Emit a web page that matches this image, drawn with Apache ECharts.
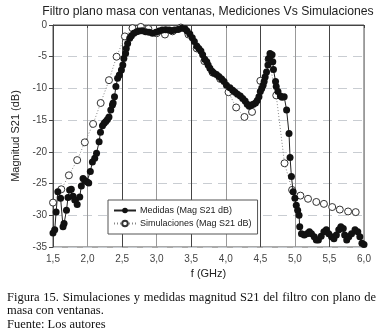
<!DOCTYPE html>
<html>
<head>
<meta charset="utf-8">
<script src="https://cdn.jsdelivr.net/npm/echarts@6/dist/echarts.min.js"></script>
<style>
  html, body { margin: 0; padding: 0; background: #fff; }
  #wrap { position: relative; width: 383px; height: 336px; }
  #chart { position: absolute; left: 0; top: 0; width: 383px; height: 336px; }
  .caption {
    position: absolute; left: 7px; width: 369px;
    font-family: "Liberation Serif", "DejaVu Serif", serif;
    font-size: 12.5px; line-height: 13.3px; color: #111;
    text-align: justify; margin: 0;
  }
</style>
</head>
<body>
<div id="wrap">
  <div id="chart"></div>
  <p class="caption" style="top:291px">Figura 15. Simulaciones y medidas magnitud S21 del filtro con plano de masa con ventanas.</p>
  <p class="caption" style="top:317.6px">Fuente: Los autores</p>
</div>
<script>
// Medidas (Mag S21 dB)
const freqMedidas = [
  1.50, 1.525, 1.545, 1.57, 1.61, 1.645, 1.66, 1.695, 1.717, 1.74, 1.765, 1.79, 1.815, 1.85,
  1.887, 1.91, 1.935, 1.96, 1.99, 2.017, 2.04, 2.07, 2.104, 2.13, 2.167, 2.187, 2.216, 2.24,
  2.264, 2.288, 2.31, 2.336, 2.36, 2.37, 2.39, 2.41, 2.435, 2.46, 2.49, 2.51, 2.525, 2.55,
  2.56, 2.58, 2.61, 2.635, 2.67, 2.71, 2.745, 2.79, 2.84, 2.89, 2.94, 2.99, 3.035, 3.08,
  3.13, 3.18, 3.215, 3.26, 3.31, 3.36, 3.41, 3.44, 3.48, 3.515, 3.545, 3.58, 3.61, 3.64,
  3.665, 3.695, 3.725, 3.745, 3.77, 3.80, 3.83, 3.865, 3.90, 3.94, 3.975, 4.01, 4.06, 4.10,
  4.135, 4.17, 4.21, 4.245, 4.28, 4.31, 4.34, 4.37, 4.40, 4.43, 4.455, 4.48, 4.50, 4.52,
  4.54, 4.555, 4.57, 4.59, 4.61, 4.62, 4.64, 4.67, 4.68, 4.69, 4.72, 4.73, 4.755, 4.79,
  4.815, 4.845, 4.88, 4.915, 4.93, 4.95, 4.975, 5.00, 5.02, 5.04, 5.06, 5.07, 5.095, 5.135,
  5.175, 5.21, 5.24, 5.28, 5.31, 5.34, 5.38, 5.42, 5.455, 5.49, 5.53, 5.565, 5.60, 5.635,
  5.665, 5.70, 5.72, 5.75, 5.78, 5.82, 5.87, 5.91, 5.94, 5.97, 6.00
];
const magMedidas = [
  -32.8, -32.3, -29.5, -26.3, -27.3, -31.8, -31.3, -29.2, -27.2, -26.0, -25.9, -27.0, -27.6, -28.3,
  -27.1, -25.4, -24.2, -24.5, -24.7, -24.9, -23.1, -21.6, -21.0, -20.2, -18.4, -16.9, -15.9, -15.5,
  -15.2, -14.9, -14.5, -13.4, -12.6, -12.3, -11.3, -9.7, -8.4, -7.9, -7.1, -6.3, -5.3, -4.5,
  -3.7, -2.9, -2.1, -1.7, -1.3, -1.05, -0.95, -0.9, -1.05, -1.15, -1.3, -1.15, -0.95, -0.8,
  -0.75, -0.8, -0.9, -0.8, -0.7, -0.5, -0.6, -0.95, -1.4, -2.0, -2.6, -3.3, -3.7, -4.1,
  -4.7, -5.4, -5.8, -6.3, -6.8, -7.3, -7.6, -7.8, -8.1, -8.5, -8.9, -9.5, -9.9, -10.3,
  -10.6, -10.9, -11.2, -11.6, -12.0, -12.5, -12.8, -12.6, -12.5, -12.3, -11.9, -11.3, -10.5, -10.0,
  -9.5, -8.9, -8.2, -7.4, -6.3, -5.3, -4.5, -4.7, -5.8, -7.0, -8.9, -9.7, -10.5, -11.2,
  -11.4, -11.3, -13.4, -17.1, -20.9, -23.9, -26.3, -27.3, -28.4, -29.2, -30.0, -31.8, -32.9, -33.1,
  -32.9, -32.6, -32.9, -33.4, -33.9, -33.9, -33.3, -32.6, -32.3, -32.9, -33.4, -33.7, -33.1, -32.3,
  -31.8, -32.1, -33.1, -33.9, -33.4, -32.9, -32.3, -32.6, -33.4, -34.4, -34.6
];

// Simulaciones (Mag S21 dB)
const freqSim = [
  1.50, 1.62, 1.73, 1.85, 1.96, 2.08, 2.19, 2.31, 2.42, 2.54, 2.65, 2.77, 2.88, 3.00,
  3.12, 3.23, 3.35, 3.46, 3.58, 3.69, 3.81, 3.92, 4.04, 4.15, 4.27, 4.38, 4.50, 4.62,
  4.73, 4.85, 4.96, 5.08, 5.19, 5.31, 5.42, 5.54, 5.65, 5.77, 5.88
];
const magSim = [
  -28.0, -25.9, -23.7, -21.3, -18.5, -15.6, -12.3, -8.7, -5.0, -1.8, -0.5, -0.3, -0.6, -1.3,
  -1.5, -1.0, -0.4, -1.5, -3.7, -5.7, -7.5, -8.5, -10.6, -13.0, -14.5, -13.7, -8.8, -5.4,
  -11.1, -21.8, -26.0, -26.9, -27.4, -27.9, -28.2, -28.7, -29.1, -29.4, -29.5
];

const chart = echarts.init(document.getElementById('chart'));

const option = {
  animation: false,
  backgroundColor: '#fff',
  textStyle: { fontFamily: 'Liberation Sans, Arial, sans-serif' },
  title: {
    text: 'Filtro plano masa con ventanas, Mediciones Vs Simulaciones',
    left: 203,
    top: 1,
    textAlign: 'center',
    textStyle: { fontSize: 12.2, fontWeight: 'normal', color: '#222' }
  },
  grid: {
    left: 53, right: 19, top: 25, bottom: 89,
    show: true, borderColor: '#555', borderWidth: 1
  },
  legend: {
    orient: 'vertical',
    left: 108, top: 200,
    padding: [6, 6, 6, 5],
    itemWidth: 22, itemHeight: 7, itemGap: 4,
    backgroundColor: '#fff',
    borderColor: '#555', borderWidth: 1, borderRadius: 0,
    data: ['Medidas (Mag S21 dB)', 'Simulaciones (Mag S21 dB)'],
    textStyle: { fontSize: 9, color: '#222', padding: [0, 0, 0, -1] }
  },
  xAxis: {
    type: 'value',
    min: 1.5, max: 6, interval: 0.5,
    name: 'f (GHz)',
    nameLocation: 'middle',
    nameGap: 21,
    nameTextStyle: { fontSize: 11, color: '#222' },
    axisLine: { lineStyle: { color: '#444' } },
    axisTick: { show: true, length: 3, lineStyle: { color: '#444' } },
    axisLabel: {
      fontSize: 10, color: '#444', margin: 7,
      formatter: v => v.toFixed(1).replace('.', ',')
    },
    splitLine: { show: true, lineStyle: { color: ['#444', '#999'], width: 1 } }
  },
  yAxis: {
    type: 'value',
    min: -35, max: 0, interval: 5,
    name: 'Magnitud S21 (dB)',
    nameLocation: 'middle',
    nameGap: 32,
    nameTextStyle: { fontSize: 11, color: '#222' },
    axisLine: { show: true, lineStyle: { color: '#444' } },
    axisTick: { show: true, length: 4, lineStyle: { color: '#444' } },
    axisLabel: { fontSize: 10, color: '#444', margin: 6 },
    splitLine: { show: true, lineStyle: { color: '#c9cdd2', type: [9, 6], width: 1 } }
  },
  series: [
    {
      name: 'Simulaciones (Mag S21 dB)',
      type: 'line',
      data: freqSim.map((f, i) => [f, magSim[i]]),
      symbol: 'circle',
      symbolSize: 7,
      lineStyle: { color: '#888', width: 1, type: [1, 2] },
      itemStyle: { color: '#fff', borderColor: '#333', borderWidth: 1 },
      z: 2
    },
    {
      name: 'Medidas (Mag S21 dB)',
      type: 'line',
      data: freqMedidas.map((f, i) => [f, magMedidas[i]]),
      symbol: 'circle',
      symbolSize: 7,
      lineStyle: { color: '#222', width: 1 },
      itemStyle: { color: '#111', borderColor: '#111', borderWidth: 0 },
      z: 3
    }
  ]
};

chart.setOption(option);
</script>
</body>
</html>
